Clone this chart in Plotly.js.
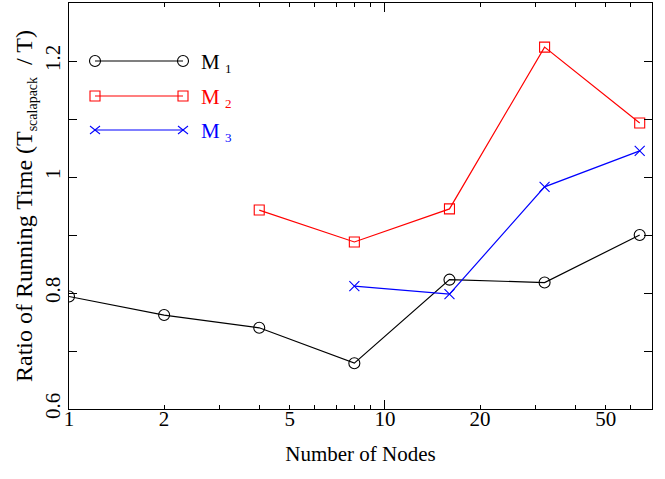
<!DOCTYPE html>
<html><head><meta charset="utf-8">
<script src="https://cdn.plot.ly/plotly-3.0.1.min.js"></script>
<style>html,body{margin:0;padding:0;background:#fff}#chart{width:665px;height:479px}</style>
</head><body><div id="chart"></div>
<script>
const nodes = [1, 2, 4, 8, 16, 32, 64];
const m1 = [0.794, 0.762, 0.740, 0.679, 0.823, 0.818, 0.900];
const m2 = [null, null, 0.943, 0.888, 0.945, 1.224, 1.093];
const m3 = [null, null, null, 0.812, 0.798, 0.983, 1.045];
const seriesBase = ['M', 'M', 'M'];
const seriesSub = ['1', '2', '3'];
const colors = ['#000000', '#ff0000', '#0000ff'];
const xTickVals = [1, 2, 5, 10, 20, 50];
const xMinorVals = [3, 4, 6, 7, 8, 9, 30, 40, 60, 70];
const yTickVals = [0.6, 0.8, 1.0, 1.2];
const yTickText = ['0.6', '0.8', '1', '1.2'];
const yMinorVals = [0.7, 0.9, 1.1];

const F = 'Liberation Serif, Times New Roman, serif';
const FS = 21;
const symbols = ['circle-open', 'square-open', 'x-thin-open'];
const sizes = [11, 10, 10];
const data = [m1, m2, m3].map((ys, i) => ({
  x: nodes, y: ys, type: 'scatter', mode: 'lines+markers', name: seriesBase[i] + seriesSub[i],
  line: {color: colors[i], width: 1.2},
  marker: {symbol: symbols[i], size: sizes[i], color: colors[i], line: {color: colors[i], width: 1.1}},
  connectgaps: false, showlegend: false
}));

// legend drawn with shapes
const lx0 = (95 - 69) / 583, lx1 = (183 - 69) / 583;
const ly = [(409 - 61) / 406, (409 - 96) / 406, (409 - 130) / 406];
const shapes = [];
const annotations = [];
for (let i = 0; i < 3; i++) {
  shapes.push({type: 'line', xref: 'paper', yref: 'paper', x0: lx0, x1: lx1, y0: ly[i], y1: ly[i], line: {color: colors[i], width: 1.2}});
  [lx0, lx1].forEach(xa => {
    if (i === 0) {
      shapes.push({type: 'circle', xref: 'paper', yref: 'paper', xsizemode: 'pixel', ysizemode: 'pixel', xanchor: xa, yanchor: ly[i], x0: -5.5, x1: 5.5, y0: -5.5, y1: 5.5, line: {color: colors[i], width: 1.1}, fillcolor: 'rgba(0,0,0,0)'});
    } else if (i === 1) {
      shapes.push({type: 'rect', xref: 'paper', yref: 'paper', xsizemode: 'pixel', ysizemode: 'pixel', xanchor: xa, yanchor: ly[i], x0: -5, x1: 5, y0: -5, y1: 5, line: {color: colors[i], width: 1.1}, fillcolor: 'rgba(0,0,0,0)'});
    } else {
      shapes.push({type: 'line', xref: 'paper', yref: 'paper', xsizemode: 'pixel', ysizemode: 'pixel', xanchor: xa, yanchor: ly[i], x0: -5, x1: 5, y0: -4, y1: 4, line: {color: colors[i], width: 1.1}});
      shapes.push({type: 'line', xref: 'paper', yref: 'paper', xsizemode: 'pixel', ysizemode: 'pixel', xanchor: xa, yanchor: ly[i], x0: -5, x1: 5, y0: 4, y1: -4, line: {color: colors[i], width: 1.1}});
    }
  });
  annotations.push({xref: 'paper', yref: 'paper', x: (199 - 69) / 583, y: ly[i] - 0.006, xanchor: 'left', yanchor: 'middle',
    text: seriesBase[i] + ' <sub><span style="font-size:13px">' + seriesSub[i] + '</span></sub>',
    showarrow: false, font: {family: F, size: FS, color: colors[i]}});
}

const layout = {
  width: 665, height: 479,
  margin: {l: 69, r: 13, t: 3, b: 70},
  paper_bgcolor: '#fff', plot_bgcolor: '#fff',
  font: {family: F, size: FS, color: '#000'},
  showlegend: false,
  xaxis: {
    type: 'log', range: [0, Math.log10(70)], tickvals: xTickVals, ticktext: xTickVals.map(String),
    ticks: 'inside', ticklen: 4, tickwidth: 1, tickcolor: '#000', ticklabelstandoff: -9,
    minor: {tickvals: xMinorVals, ticks: 'inside', ticklen: 4, tickwidth: 1, tickcolor: '#000'},
    showline: true, linecolor: '#000', linewidth: 1, mirror: 'ticks', showgrid: false, zeroline: false,
    tickfont: {family: F, size: FS},
    title: {text: 'Number of Nodes', font: {family: F, size: FS}, standoff: 16}
  },
  xaxis2: {
    type: 'log', range: [0, Math.log10(70)], overlaying: 'x', side: 'bottom', tickvals: [1, 10],
    ticks: 'inside', ticklen: 9, tickwidth: 1, tickcolor: '#000', showticklabels: false,
    showline: false, mirror: 'ticks', showgrid: false, zeroline: false
  },
  yaxis: {
    range: [0.6, 1.3], tickvals: yTickVals, ticktext: yTickText, tickangle: -90,
    ticks: 'inside', ticklen: 8, tickwidth: 1, tickcolor: '#000',
    minor: {tickvals: yMinorVals, ticks: 'inside', ticklen: 8, tickwidth: 1, tickcolor: '#000'},
    showline: true, linecolor: '#000', linewidth: 1, mirror: 'ticks', showgrid: false, zeroline: false,
    tickfont: {family: F, size: FS},
    title: {text: 'Ratio of Running Time (T<sub><span style="font-size:14px">scalapack</span></sub>  / T)', font: {family: F, size: 24}, standoff: 1}
  },
  shapes: shapes,
  annotations: annotations
};
data.push({x: [1, 70], y: [null, null], xaxis: 'x2', yaxis: 'y', type: 'scatter', mode: 'lines', showlegend: false, hoverinfo: 'skip'});
Plotly.newPlot('chart', data, layout, {displayModeBar: false, staticPlot: true});
</script></body></html>
